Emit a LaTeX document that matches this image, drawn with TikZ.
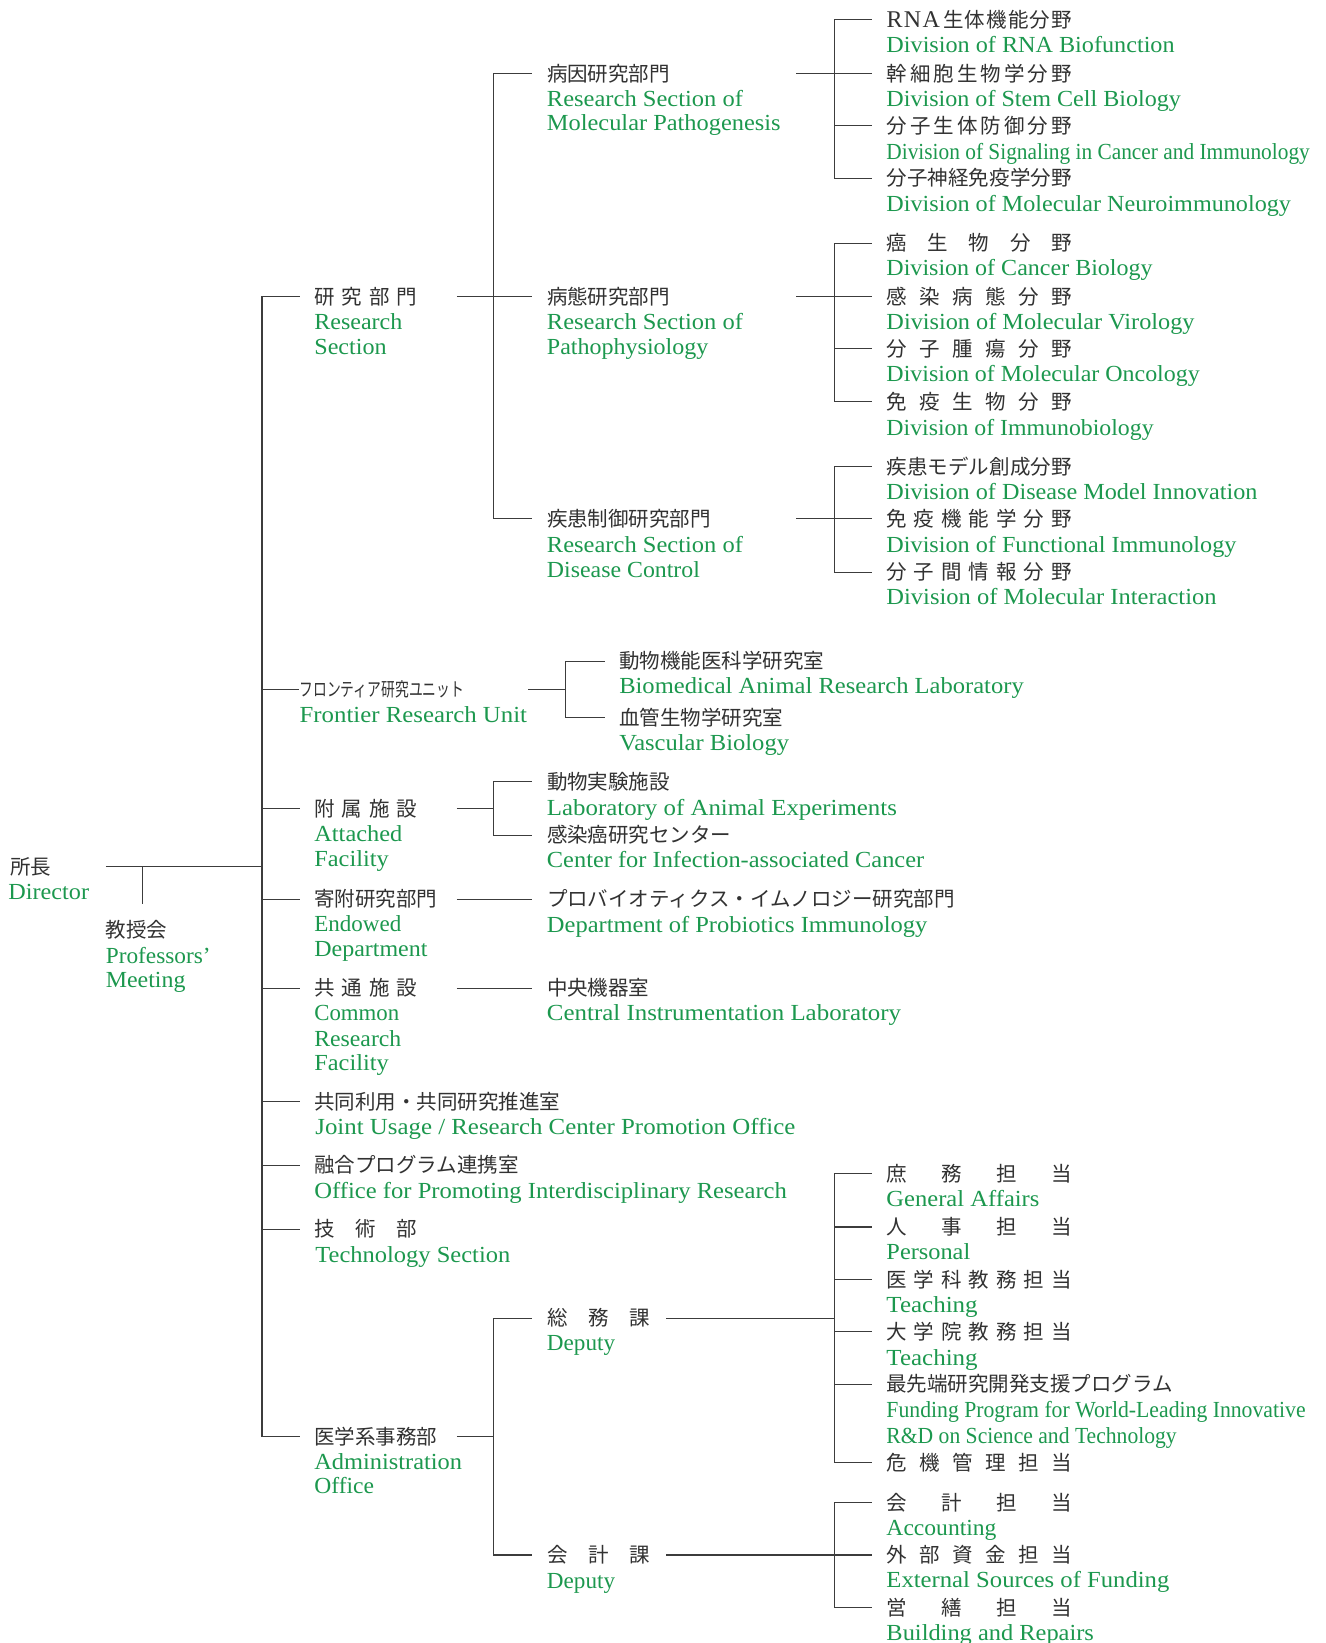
\documentclass[tikz,border=0pt]{standalone}
\usepackage{fontspec}
\usepackage{graphicx}
\setmainfont{Liberation Serif}
\newfontfamily\jfont{Noto Sans CJK JP}
\definecolor{engreen}{RGB}{28,152,78}
\definecolor{jpcol}{RGB}{50,50,50}
\definecolor{linecol}{RGB}{60,60,60}
\newlength\pxu
\setlength\pxu{1.0482pt}
\newcommand\enw[2]{\resizebox{#1\pxu}{\height}{#2}}
\makeatletter
\def\jsp@loop#1{\ifx\relax#1\else\hfill#1\expandafter\jsp@loop\fi}
\def\jsp@first#1{#1\jsp@loop}
\newcommand\jsp[2]{\makebox[#1\pxu][s]{\jsp@first#2\relax}}
\makeatother
\tikzset{
  jp/.style={anchor=west, inner sep=0pt, outer xsep=14.7pt, outer ysep=0pt,
    text height=18pt, text depth=2.5pt, text=jpcol,
    font={\jfont\fontsize{20.5pt}{24pt}\selectfont}},
  jp0/.style={jp, outer xsep=0pt},
  en/.style={anchor=west, inner sep=0pt, outer sep=0pt,
    text height=15.2pt, text depth=0pt, text=engreen,
    font={\fontsize{23pt}{26pt}\selectfont}},
  ln/.style={draw=linecol, line width=1.1pt},
}
\begin{document}
\begin{tikzpicture}[x=1.0482pt, y=-1.0482pt]
\fill[white] (0,0) rectangle (1265,1568);
\useasboundingbox (0,0) rectangle (1265,1568);

% ---------- Director and Professors' Meeting ----------
\node[jp0] (dir) at (10,827) {所長};
\node[en] (dir-e) at (8,851) {\enw{77}{Director}};
\node[jp0] (prof) at (101,887) {教授会};
\node[en] (prof-e1) at (101,912) {\enw{100}{Professors’}};
\node[en] (prof-e2) at (101,935) {\enw{76}{Meeting}};

% ---------- first level ----------
\node[jp] (rs) at (286,283) {\jsp{98}{研究部門}};
\node[en] (rs-e1) at (300,307) {\enw{84}{Research}};
\node[en] (rs-e2) at (300,331) {\enw{69}{Section}};

\node[anchor=west, inner sep=0pt, outer xsep=1pt, text height=16pt, text depth=2.2pt, text=jpcol,
  font={\jfont\fontsize{19pt}{22pt}\selectfont}] (fr) at (285,658) {\resizebox{157\pxu}{\height}{フロンティア研究ユニット}};
\node[en] (fr-e) at (286,682) {\enw{217}{Frontier Research Unit}};

\node[jp] (af) at (286,772) {\jsp{98}{附属施設}};
\node[en] (af-e1) at (300,796) {\enw{84}{Attached}};
\node[en] (af-e2) at (300,820) {\enw{71}{Facility}};

\node[jp] (ed) at (286,858) {寄附研究部門};
\node[en] (ed-e1) at (300,882) {\enw{83}{Endowed}};
\node[en] (ed-e2) at (300,906) {\enw{108}{Department}};

\node[jp] (crf) at (286,943) {\jsp{98}{共通施設}};
\node[en] (crf-e1) at (300,967) {\enw{81}{Common}};
\node[en] (crf-e2) at (300,991) {\enw{83}{Research}};
\node[en] (crf-e3) at (300,1014) {\enw{71}{Facility}};

\node[jp] (ju) at (286,1051) {共同利用・共同研究推進室};
\node[en] (ju-e) at (301,1075) {\enw{458}{Joint Usage / Research Center Promotion Office}};

\node[jp] (op) at (286,1112) {融合プログラム連携室};
\node[en] (op-e) at (300,1137) {\enw{451}{Office for Promoting Interdisciplinary Research}};

\node[jp] (ts) at (286,1173) {\jsp{98}{技術部}};
\node[en] (ts-e) at (301,1198) {\enw{186}{Technology Section}};

\node[jp] (ao) at (286,1371) {医学系事務部};
\node[en] (ao-e1) at (300,1395) {\enw{141}{Administration}};
\node[en] (ao-e2) at (300,1418) {\enw{57}{Office}};

% ---------- research sections ----------
\node[jp] (pa) at (508,70) {病因研究部門};
\node[en] (pa-e1) at (522,94) {\enw{187}{Research Section of}};
\node[en] (pa-e2) at (522,117) {\enw{223}{Molecular Pathogenesis}};
\node[jp] (pp) at (508,283) {病態研究部門};
\node[en] (pp-e1) at (522,307) {\enw{187}{Research Section of}};
\node[en] (pp-e2) at (522,331) {\enw{154}{Pathophysiology}};
\node[jp] (dc) at (508,495) {疾患制御研究部門};
\node[en] (dc-e1) at (522,520) {\enw{187}{Research Section of}};
\node[en] (dc-e2) at (522,544) {\enw{146}{Disease Control}};

% ---------- divisions ----------
\node[jp] (d1) at (832,19) {\makebox[177\pxu][s]{\makebox[51\pxu][s]{\rmfamily\fontsize{24pt}{24pt}\selectfont R\hfil N\hfil A}\hfill\jsp{123}{生体機能分野}}};
\node[en] (d1-e) at (846,43) {\enw{275}{Division of RNA Biofunction}};
\node[jp] (d2) at (832,70) {\jsp{177}{幹細胞生物学分野}};
\node[en] (d2-e) at (846,94) {\enw{281}{Division of Stem Cell Biology}};
\node[jp] (d3) at (832,120) {\jsp{177}{分子生体防御分野}};
\node[en] (d3-e) at (846,145) {\enw{404}{Division of Signaling in Cancer and Immunology}};
\node[jp] (d4) at (832,170) {\jsp{177}{分子神経免疫学分野}};
\node[en] (d4-e) at (846,195) {\enw{386}{Division of Molecular Neuroimmunology}};

\node[jp] (d5) at (832,232) {\jsp{177}{癌生物分野}};
\node[en] (d5-e) at (846,256) {\enw{254}{Division of Cancer Biology}};
\node[jp] (d6) at (832,283) {\jsp{177}{感染病態分野}};
\node[en] (d6-e) at (846,307) {\enw{294}{Division of Molecular Virology}};
\node[jp] (d7) at (832,333) {\jsp{177}{分子腫瘍分野}};
\node[en] (d7-e) at (846,357) {\enw{299}{Division of Molecular Oncology}};
\node[jp] (d8) at (832,383) {\jsp{177}{免疫生物分野}};
\node[en] (d8-e) at (846,408) {\enw{255}{Division of Immunobiology}};

\node[jp] (d9) at (832,445) {\jsp{177}{疾患モデル創成分野}};
\node[en] (d9-e) at (846,469) {\enw{354}{Division of Disease Model Innovation}};
\node[jp] (d10) at (832,495) {\jsp{177}{免疫機能学分野}};
\node[en] (d10-e) at (846,520) {\enw{334}{Division of Functional Immunology}};
\node[jp] (d11) at (832,546) {\jsp{177}{分子間情報分野}};
\node[en] (d11-e) at (846,570) {\enw{315}{Division of Molecular Interaction}};

% ---------- frontier children ----------
\node[jp] (bal) at (577,631) {動物機能医科学研究室};
\node[en] (bal-e) at (591,655) {\enw{386}{Biomedical Animal Research Laboratory}};
\node[jp] (vb) at (577,685) {血管生物学研究室};
\node[en] (vb-e) at (591,709) {\enw{162}{Vascular Biology}};

% ---------- attached facility children ----------
\node[jp] (lae) at (508,746) {動物実験施設};
\node[en] (lae-e) at (522,771) {\enw{334}{Laboratory of Animal Experiments}};
\node[jp] (cic) at (508,797) {感染癌研究センター};
\node[en] (cic-e) at (522,821) {\enw{360}{Center for Infection-associated Cancer}};

% ---------- endowed / common children ----------
\node[jp] (pro) at (508,858) {プロバイオティクス・イムノロジー研究部門};
\node[en] (pro-e) at (522,883) {\enw{363}{Department of Probiotics Immunology}};
\node[jp] (cil) at (508,943) {中央機器室};
\node[en] (cil-e) at (522,967) {\enw{338}{Central Instrumentation Laboratory}};

% ---------- administration ----------
\node[jp] (gd) at (508,1258) {\jsp{98}{総務課}};
\node[en] (gd-e) at (522,1282) {\enw{65}{Deputy}};
\node[jp] (ad) at (508,1484) {\jsp{98}{会計課}};
\node[en] (ad-e) at (522,1509) {\enw{65}{Deputy}};

\node[jp] (g1) at (832,1120) {\jsp{177}{庶務担当}};
\node[en] (g1-e) at (846,1144) {\enw{146}{General Affairs}};
\node[jp] (g2) at (832,1171) {\jsp{177}{人事担当}};
\node[en] (g2-e) at (846,1195) {\enw{80}{Personal}};
\node[jp] (g3) at (832,1221) {\jsp{177}{医学科教務担当}};
\node[en] (g3-e) at (846,1245) {\enw{87}{Teaching}};
\node[jp] (g4) at (832,1271) {\jsp{177}{大学院教務担当}};
\node[en] (g4-e) at (846,1296) {\enw{87}{Teaching}};
\node[jp] (g5) at (832,1321) {最先端研究開発支援プログラム};
\node[en] (g5-e1) at (846,1346) {\enw{400}{Funding Program for World-Leading Innovative}};
\node[en] (g5-e2) at (846,1370) {\enw{277}{R\&D on Science and Technology}};
\node[jp] (g6) at (832,1396) {\jsp{177}{危機管理担当}};

\node[jp] (a1) at (832,1434) {\jsp{177}{会計担当}};
\node[en] (a1-e) at (846,1458) {\enw{105}{Accounting}};
\node[jp] (a2) at (832,1484) {\jsp{177}{外部資金担当}};
\node[en] (a2-e) at (846,1508) {\enw{270}{External Sources of Funding}};
\node[jp] (a3) at (832,1534) {\jsp{177}{営繕担当}};
\node[en] (a3-e) at (846,1558) {\enw{198}{Building and Repairs}};

% ---------- junction coordinates ----------
\coordinate (dirOut) at (101,827);
\coordinate (tr) at (250,827);
\coordinate (profTop) at (136,827);
\coordinate (profBot) at (136,863);
\coordinate (rsOut) at (436,283);  \coordinate (rsJ) at (471,283);
\coordinate (paOut) at (760,70);   \coordinate (paJ) at (796,70);
\coordinate (ppOut) at (760,283);  \coordinate (ppJ) at (796,283);
\coordinate (dcOut) at (760,495);  \coordinate (dcJ) at (796,495);
\coordinate (frOut) at (504,658);  \coordinate (frJ) at (540,658);
\coordinate (afOut) at (436,772);  \coordinate (afJ) at (471,772);
\coordinate (edOut) at (436,858);
\coordinate (crfOut) at (436,943);
\coordinate (aoOut) at (436,1371); \coordinate (aoJ) at (471,1371);
\coordinate (gdOut) at (636,1258); \coordinate (gdJ) at (796,1258);
\coordinate (adOut) at (636,1484); \coordinate (adJ) at (796,1484);

% ---------- connectors ----------
\draw[ln] (dirOut) -- (tr);
\draw[ln] (profTop) -- (profBot);
\foreach \c in {rs,fr,af,ed,crf,ju,op,ts,ao} \draw[ln] (tr) |- (\c.west);

\draw[ln] (rsOut) -- (rsJ);
\foreach \c in {pa,pp,dc} \draw[ln] (rsJ) |- (\c.west);

\draw[ln] (paOut) -- (paJ);
\foreach \c in {d1,d2,d3,d4} \draw[ln] (paJ) |- (\c.west);
\draw[ln] (ppOut) -- (ppJ);
\foreach \c in {d5,d6,d7,d8} \draw[ln] (ppJ) |- (\c.west);
\draw[ln] (dcOut) -- (dcJ);
\foreach \c in {d9,d10,d11} \draw[ln] (dcJ) |- (\c.west);

\draw[ln] (frOut) -- (frJ);
\foreach \c in {bal,vb} \draw[ln] (frJ) |- (\c.west);

\draw[ln] (afOut) -- (afJ);
\foreach \c in {lae,cic} \draw[ln] (afJ) |- (\c.west);

\draw[ln] (edOut) -- (pro.west);
\draw[ln] (crfOut) -- (cil.west);

\draw[ln] (aoOut) -- (aoJ);
\foreach \c in {gd,ad} \draw[ln] (aoJ) |- (\c.west);

\draw[ln] (gdOut) -- (gdJ);
\foreach \c in {g1,g2,g3,g4,g5,g6} \draw[ln] (gdJ) |- (\c.west);
\draw[ln] (adOut) -- (adJ);
\foreach \c in {a1,a2,a3} \draw[ln] (adJ) |- (\c.west);
\end{tikzpicture}
\end{document}
